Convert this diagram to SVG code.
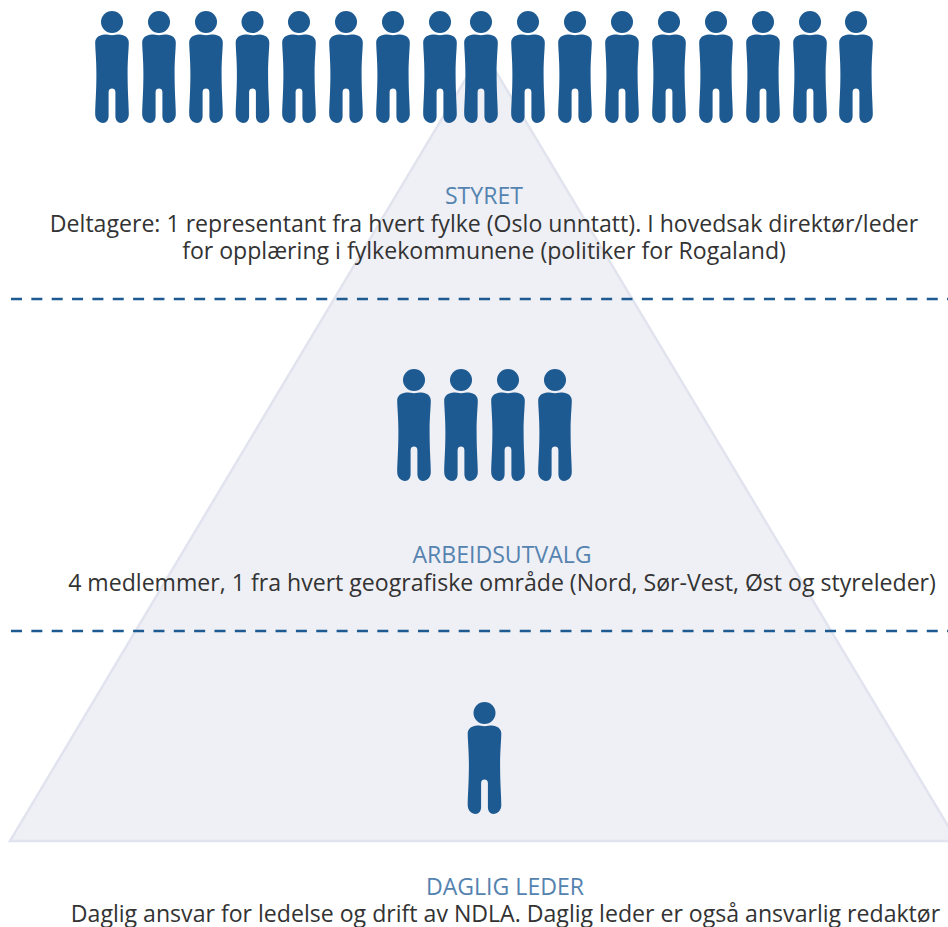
<svg xmlns="http://www.w3.org/2000/svg" width="948" height="927" viewBox="0 0 948 927">
<style>
.p{fill:#1d5a91}
.h{font-family:"Open Sans",sans-serif;font-size:23.1px;fill:#5583b0;text-anchor:middle}
.t{font-family:"Open Sans",sans-serif;font-size:23.1px;fill:#333;text-anchor:middle}
.d{stroke:#1d5a91;stroke-width:2.6;stroke-dasharray:11 9.35;fill:none}
</style>
<defs>
<g id="person"><circle cx="0" cy="0" r="11"/><path d="M-11 13.200C-7 11.800 -4 13.300 0 13.300C4 13.300 7 11.800 11 13.200C14.500 14.200 16.800 17 16.800 20.500C16.800 27 15.600 37 15.600 52C15.600 70 16.800 84 16.800 92C16.800 97.500 13 101 9 101C5.500 101 3.400 98 3.400 94L3.400 70C3.400 67.500 1.800 66.500 0 66.500C-1.800 66.500 -3.400 67.500 -3.400 70L-3.400 94C-3.400 98 -5.500 101 -9 101C-13 101 -16.800 97.500 -16.800 92C-16.800 84 -15.600 70 -15.600 52C-15.600 37 -16.800 27 -16.800 20.500C-16.800 17 -14.500 14.200 -11 13.200Z"/></g>
</defs>
<g id="pyramid"><path d="M483 50L957 841L10 841Z" fill="#eff0f5" stroke="#e1e4ee" stroke-width="2.500"/></g>
<g id="connectors"><path class="d" d="M11 299H948"/><path class="d" d="M11 631H948"/></g>
<g id="styret-people" class="p">
<use href="#person" x="112" y="22"/><use href="#person" x="159" y="22"/><use href="#person" x="206" y="22"/><use href="#person" x="252.500" y="22"/><use href="#person" x="299" y="22"/><use href="#person" x="346" y="22"/><use href="#person" x="393" y="22"/><use href="#person" x="440" y="22"/><use href="#person" x="481" y="22"/><use href="#person" x="528" y="22"/><use href="#person" x="575" y="22"/><use href="#person" x="622" y="22"/><use href="#person" x="669" y="22"/><use href="#person" x="716" y="22"/><use href="#person" x="763" y="22"/><use href="#person" x="810" y="22"/><use href="#person" x="856" y="22"/>
</g>
<g id="arbeidsutvalg-people" class="p">
<use href="#person" x="414" y="380"/><use href="#person" x="461" y="380"/><use href="#person" x="508" y="380"/><use href="#person" x="555" y="380"/>
</g>
<g id="leder-person" class="p"><use href="#person" x="484.500" y="713"/></g>
<g id="styret"><text class="h" x="484" y="204">STYRET</text>
<text class="t" x="484" y="232">Deltagere: 1 representant fra hvert fylke (Oslo unntatt). I hovedsak direktør/leder</text>
<text class="t" x="484" y="259">for opplæring i fylkekommunene (politiker for Rogaland)</text></g>
<g id="arbeidsutvalg"><text class="h" x="502" y="563">ARBEIDSUTVALG</text>
<text class="t" x="502" y="591">4 medlemmer, 1 fra hvert geografiske område (Nord, Sør-Vest, Øst og styreleder)</text></g>
<g id="daglig-leder"><text class="h" x="505" y="895">DAGLIG LEDER</text>
<text class="t" x="505.500" y="921.500">Daglig ansvar for ledelse og drift av NDLA. Daglig leder er også ansvarlig redaktør</text></g>
</svg>
